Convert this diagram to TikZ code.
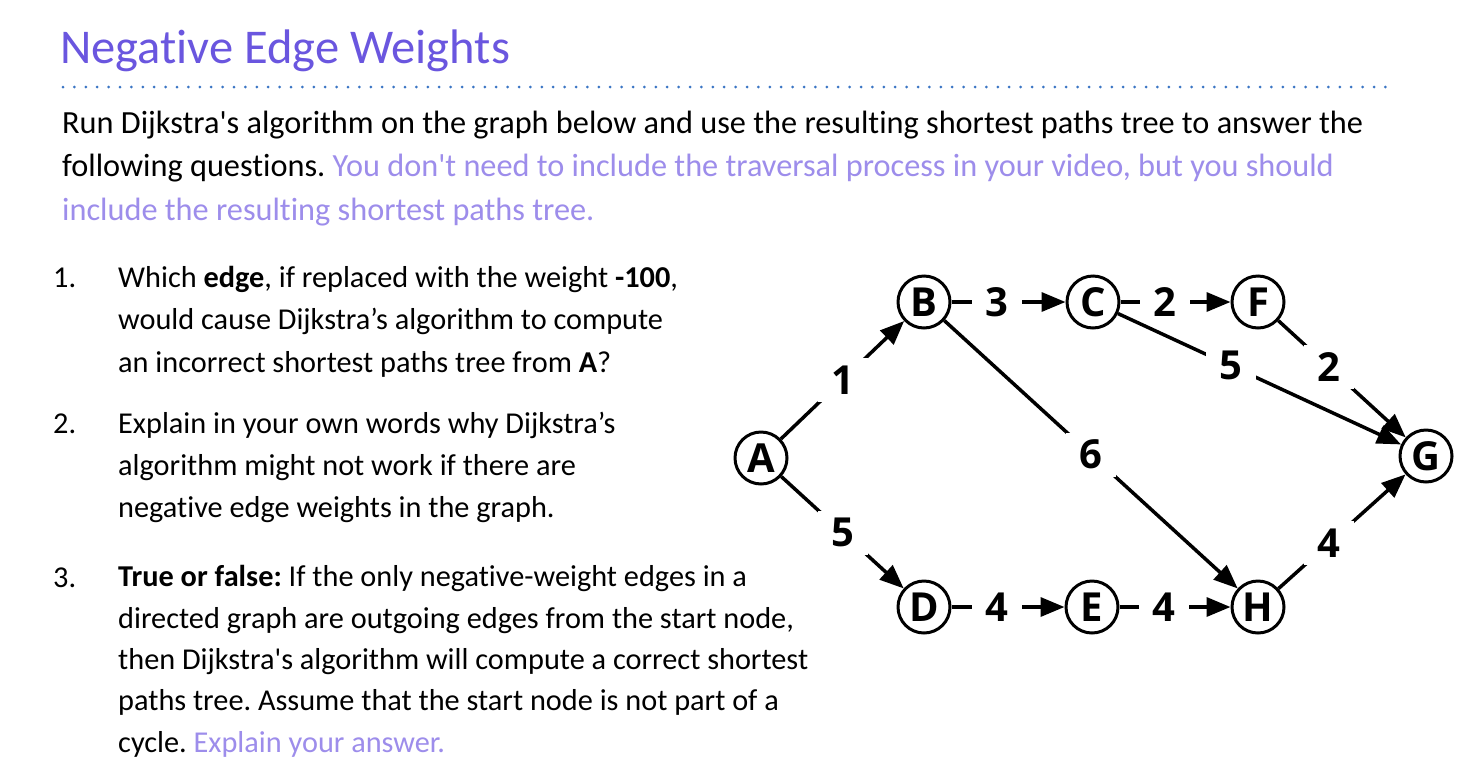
\documentclass[tikz,border=0pt]{standalone}
\usepackage{fontspec}
\setmainfont{Carlito}[Ligatures={TeX,NoCommon}]
\newfontfamily\graphfont{Open Sans}
\usetikzlibrary{arrows.meta}
\definecolor{ink}{HTML}{000000}
\definecolor{headline}{HTML}{6A56DF}
\definecolor{lilac}{HTML}{9D8DEB}
\definecolor{rulecol}{HTML}{3A75C4}
\newcommand{\sq}{\textquotesingle}
\frenchspacing

\begin{document}
\begin{tikzpicture}[x=1pt,y=-1pt,text=ink,>={Triangle[length=24pt,width=19pt]},
  vertex/.style={circle,draw=ink,line width=3pt,minimum size=52pt,inner sep=0pt,
    font=\graphfont\bfseries\fontsize{40}{40}\selectfont},
  wt/.style={fill=white,inner sep=0pt,minimum width=50pt,minimum height=44pt,
    font=\graphfont\bfseries\fontsize{40}{40}\selectfont},
  edge/.style={->,draw=ink,line width=3.5pt},
  para/.style={anchor=base west,inner sep=0pt,align=left},
  num/.style={anchor=base west,inner sep=0pt,font=\fontsize{30.3}{30.3}\selectfont}]
  \useasboundingbox (0,0) rectangle (1467,780);
  \fill[white] (0,0) rectangle (1467,780);

  % heading
  \node[anchor=base west,inner sep=0pt,text=headline,font=\fontsize{48.5}{48.5}\selectfont] (title) at (60,63) {Negative Edge Weights};
  \draw[rulecol,line width=3pt,line cap=round,dash pattern=on 0pt off 11.4pt] (63,87) -- (1392,87);

  % instructions (base = last line)
  \node[para,font=\fontsize{32.3}{43.5}\selectfont] (intro) at (62,220) {Run Dijkstra\sq s algorithm on the graph below and use the resulting shortest paths tree to answer the\\
    following questions. \textcolor{lilac}{You don\sq t need to include the traversal process in your video, but you should}\\
    \textcolor{lilac}{include the resulting shortest paths tree.}};

  % questions
  \node[num] (n1) at (53,287) {1.};
  \node[para,font=\fontsize{30.3}{42.5}\selectfont] (q1) at (118,372) {Which \textbf{edge}, if replaced with the weight \textbf{-100},\\
    would cause Dijkstra’s algorithm to compute\\
    an incorrect shortest paths tree from \textbf{A}?};
  \node[num] (n2) at (53,433) {2.};
  \node[para,font=\fontsize{30.3}{42}\selectfont] (q2) at (118,517) {Explain in your own words why Dijkstra’s\\
    algorithm might not work if there are\\
    negative edge weights in the graph.};
  \node[num] (n3) at (53,587) {3.};
  \node[para,font=\fontsize{30.3}{41.3}\selectfont] (q3) at (118,752) {\textbf{True or false:} If the only negative-weight edges in a\\
    directed graph are outgoing edges from the start node,\\
    then Dijkstra\sq s algorithm will compute a correct shortest\\
    paths tree. Assume that the start node is not part of a\\
    cycle. \textcolor{lilac}{Explain your answer.}};

  % graph
  \node[vertex] (A) at (761,458) {A};
  \node[vertex] (B) at (924,302) {B};
  \node[vertex] (C) at (1093,302) {C};
  \node[vertex] (F) at (1258,302) {F};
  \node[vertex] (G) at (1426,456) {G};
  \node[vertex] (D) at (924,607) {D};
  \node[vertex] (E) at (1092,607) {E};
  \node[vertex] (H) at (1258,607) {H};

  \draw[edge] (A) -- node[wt] {1} (B);
  \draw[edge] (A) -- node[wt] {5} (D);
  \draw[edge] (B) -- node[wt,pos=0.4] {3} (C);
  \draw[edge] (C) -- node[wt,pos=0.4] {2} (F);
  \draw[edge] (B) -- node[wt] {6} (H);
  \draw[edge] (C) -- node[wt,pos=0.4] {5} (G);
  \draw[edge] (F) -- node[wt,pos=0.4] {2} (G);
  \draw[edge] (D) -- node[wt,pos=0.4] {4} (E);
  \draw[edge] (E) -- node[wt,pos=0.4] {4} (H);
  \draw[edge] (H) -- node[wt,pos=0.4] {4} (G);
\end{tikzpicture}
\end{document}
